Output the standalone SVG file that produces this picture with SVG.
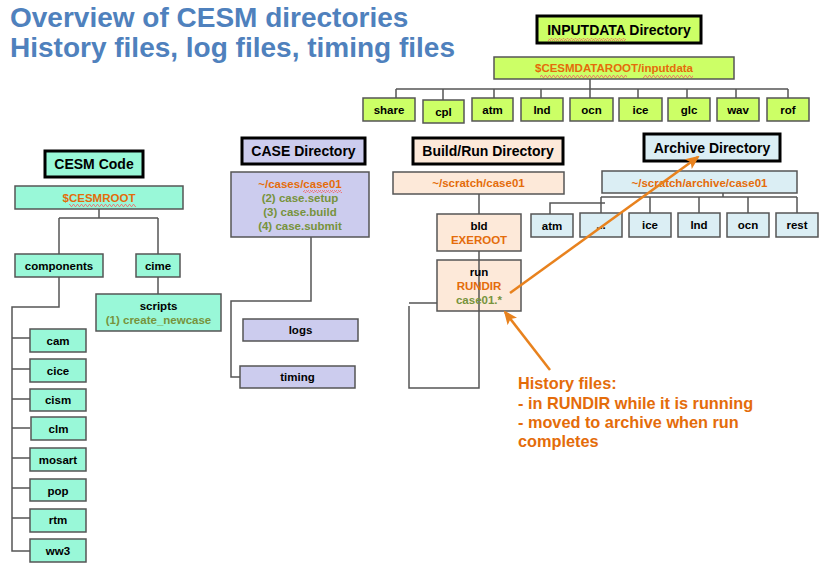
<svg xmlns="http://www.w3.org/2000/svg" width="825" height="569" viewBox="0 0 825 569">
<defs>
<style>
text{font-family:"Liberation Sans",Arial,sans-serif;font-weight:bold;}
.title{font-size:28px;fill:#4f81bd;}
.hd{font-size:14px;fill:#000;text-anchor:middle;}
.lb{font-size:11.5px;fill:#000;text-anchor:middle;}
.or{fill:#e46c0a;}
.gr{fill:#77933c;}
.hdbox{stroke:#000;stroke-width:3;}
.box{stroke:#555;stroke-width:1.5;}
.cesm{fill:#99f8d8;}
.inp{fill:#ccff66;}
.case{fill:#ccccee;}
.bld{fill:#fde9d9;}
.arc{fill:#dbeef4;}
.con{fill:none;stroke:#555;stroke-width:1.5;}
.arrow{fill:none;stroke:#e8821e;stroke-width:2.5;}
.sq{fill:url(#wave);}
.note{font-size:16.3px;fill:#e46c0a;}
</style>
<pattern id="wave" patternUnits="userSpaceOnUse" width="4" height="3">
<path d="M0,2.5 L1,0.5 L2,0.5 L3,2.5 L4,2.5" fill="none" stroke="#f06868" stroke-width="0.8"/>
</pattern>
<marker id="ah2" markerWidth="14" markerHeight="14" refX="12" refY="7" orient="auto" markerUnits="userSpaceOnUse" viewBox="0 0 14 14">
<path d="M0,1 L14,7 L0,13 L3,7 Z" fill="#e8821e"/>
</marker>
</defs>
<rect width="825" height="569" fill="#fff"/>

<g id="title">
<text class="title" x="10" y="27">Overview of CESM directories</text>
<text class="title" x="10" y="57">History files, log files, timing files</text>
</g>

<g id="connectors">
<path class="con" d="M590,79 V89 M396,89 H788 M396,89 V98 M443,89 V100 M494,89 V98 M541,89 V98 M590,89 V98 M638,89 V98 M687,89 V98 M736,89 V98 M788,89 V98"/>
<path class="con" d="M99,209 V218 M59,218 H158 M59,218 V254 M158,218 V254 M158,277 V294 M59,277 V307 H12 V551 H30 M12,338 H30 M12,369 H30 M12,399 H30 M12,428 H30 M12,458 H30 M12,488 H30 M12,518 H30"/>
<path class="con" d="M311,237 V301 H231 V377 H240"/>
<path class="con" d="M479,194 V214 M479,242 V388 H409 V306 M409,303 H442"/>
<path class="con" d="M723,193 V197 M601,197 H797 M601,197 V213 M650,197 V213 M699,197 V213 M748,197 V213 M797,197 V213 M550,214 V203 H605"/>
</g>

<g id="inputdata-title">
<rect class="hdbox inp" x="537" y="16" width="164" height="27"/>
<text class="hd" x="619" y="35">INPUTDATA Directory</text>
<rect class="sq" x="548" y="38" width="78" height="3"/>
</g>
<g id="inputdata">
<rect class="box inp" x="494" y="57" width="240" height="22"/>
<text class="lb or" x="614" y="72">$CESMDATAROOT/inputdata</text>
<rect class="sq" x="540" y="75" width="87" height="3"/>
<rect class="sq" x="643" y="75" width="50" height="3"/>
</g>
<g id="inp-share"><rect class="box inp" x="363" y="98" width="52" height="23"/><text class="lb" x="389" y="114">share</text></g>
<g id="inp-cpl"><rect class="box inp" x="423" y="100" width="41" height="23"/><text class="lb" x="443.5" y="116">cpl</text></g>
<g id="inp-atm"><rect class="box inp" x="472" y="98" width="41" height="23"/><text class="lb" x="492.5" y="114">atm</text></g>
<g id="inp-lnd"><rect class="box inp" x="521" y="98" width="42" height="23"/><text class="lb" x="542" y="114">lnd</text></g>
<g id="inp-ocn"><rect class="box inp" x="570" y="98" width="43" height="23"/><text class="lb" x="591.5" y="114">ocn</text></g>
<g id="inp-ice"><rect class="box inp" x="619" y="98" width="43" height="23"/><text class="lb" x="640.5" y="114">ice</text></g>
<g id="inp-glc"><rect class="box inp" x="668" y="98" width="42" height="23"/><text class="lb" x="689" y="114">glc</text></g>
<g id="inp-wav"><rect class="box inp" x="717" y="98" width="42" height="23"/><text class="lb" x="738" y="114">wav</text></g>
<g id="inp-rof"><rect class="box inp" x="767" y="98" width="42" height="23"/><text class="lb" x="788" y="114">rof</text></g>

<g id="cesm-title">
<rect class="hdbox cesm" x="45" y="151" width="98" height="26"/>
<text class="hd" x="94" y="169">CESM Code</text>
</g>
<g id="cesmroot">
<rect class="box cesm" x="15" y="186" width="168" height="23"/>
<text class="lb or" x="99" y="202">$CESMROOT</text>
<rect class="sq" x="69" y="204" width="67" height="3"/>
</g>
<g id="components"><rect class="box cesm" x="15" y="254" width="88" height="23"/><text class="lb" x="59" y="270">components</text></g>
<g id="cime"><rect class="box cesm" x="136" y="254" width="44" height="23"/><text class="lb" x="158" y="270">cime</text></g>
<g id="scripts">
<rect class="box cesm" x="96" y="294" width="125" height="37"/>
<text class="lb" x="158.5" y="310">scripts</text>
<text class="lb gr" x="158.5" y="324">(1) create_newcase</text>
</g>
<g id="cam"><rect class="box cesm" x="30" y="329" width="56" height="23"/><text class="lb" x="58" y="345">cam</text></g>
<g id="cice"><rect class="box cesm" x="30" y="359" width="56" height="23"/><text class="lb" x="58" y="375">cice</text></g>
<g id="cism"><rect class="box cesm" x="30" y="389" width="56" height="22"/><text class="lb" x="58" y="404">cism</text></g>
<g id="clm"><rect class="box cesm" x="31" y="417" width="55" height="23"/><text class="lb" x="58.5" y="433">clm</text></g>
<g id="mosart"><rect class="box cesm" x="30" y="448" width="56" height="23"/><text class="lb" x="58" y="464">mosart</text></g>
<g id="pop"><rect class="box cesm" x="30" y="479" width="56" height="22"/><text class="lb" x="58" y="495">pop</text></g>
<g id="rtm"><rect class="box cesm" x="30" y="509" width="56" height="23"/><text class="lb" x="58" y="524">rtm</text></g>
<g id="ww3"><rect class="box cesm" x="30" y="539" width="56" height="23"/><text class="lb" x="58" y="555">ww3</text></g>

<g id="case-title">
<rect class="hdbox case" x="242" y="138" width="123" height="26"/>
<text class="hd" x="303.5" y="156">CASE Directory</text>
</g>
<g id="case-dir">
<rect class="box case" x="231" y="172" width="138" height="65"/>
<text class="lb or" x="300" y="188">~/cases/case01</text>
<rect class="sq" x="303" y="190" width="39" height="3"/>
<text class="lb gr" x="300" y="202">(2) case.setup</text>
<text class="lb gr" x="300" y="216">(3) case.build</text>
<text class="lb gr" x="300" y="230">(4) case.submit</text>
</g>
<g id="logs"><rect class="box case" x="243" y="319" width="115" height="22"/><text class="lb" x="300.5" y="334">logs</text></g>
<g id="timing"><rect class="box case" x="240" y="366" width="115" height="22"/><text class="lb" x="297.5" y="381">timing</text></g>

<g id="build-title">
<rect class="hdbox bld" x="413" y="138" width="150" height="26"/>
<text class="hd" x="488" y="156">Build/Run Directory</text>
</g>
<g id="scratch"><rect class="box bld" x="393" y="172" width="171" height="22"/><text class="lb or" x="478.5" y="187">~/scratch/case01</text></g>
<g id="bld-node">
<rect class="box bld" x="437" y="214" width="84" height="37"/>
<text class="lb" x="479" y="230">bld</text>
<text class="lb or" x="479" y="244">EXEROOT</text>
</g>
<g id="run-node">
<rect class="box bld" x="437" y="260" width="84" height="51"/>
<path class="con" d="M479,260 V311"/>
<text class="lb" x="479" y="276">run</text>
<text class="lb or" x="479" y="290">RUNDIR</text>
<text class="lb gr" x="479" y="304">case01.*</text>
</g>

<g id="archive-title">
<rect class="hdbox arc" x="644" y="134" width="136" height="27"/>
<text class="hd" x="712" y="153">Archive Directory</text>
</g>
<g id="archive-dir"><rect class="box arc" x="602" y="171" width="195" height="22"/><text class="lb or" x="699.5" y="187">~/scratch/archive/case01</text></g>
<g id="arc-atm"><rect class="box arc" x="531" y="214" width="42" height="23"/><text class="lb" x="552" y="230">atm</text></g>
<g id="arc-dots"><rect class="box arc" x="580" y="213" width="42" height="24"/><text class="lb" x="601" y="229">...</text></g>
<g id="arc-ice"><rect class="box arc" x="629" y="213" width="42" height="24"/><text class="lb" x="650" y="229">ice</text></g>
<g id="arc-lnd"><rect class="box arc" x="678" y="213" width="42" height="24"/><text class="lb" x="699" y="229">lnd</text></g>
<g id="arc-ocn"><rect class="box arc" x="727" y="213" width="42" height="24"/><text class="lb" x="748" y="229">ocn</text></g>
<g id="arc-rest"><rect class="box arc" x="776" y="213" width="42" height="24"/><text class="lb" x="797" y="229">rest</text></g>

<g id="callout">
<text class="note" x="518" y="389">History files:</text>
<text class="note" x="518" y="409">- in RUNDIR while it is running</text>
<text class="note" x="518" y="428">- moved to archive when run</text>
<text class="note" x="518" y="447">completes</text>
</g>

<g id="arrows">
<path class="arrow" d="M510,293 L698,157" marker-end="url(#ah2)"/>
<path class="arrow" d="M550,370 L505,312" marker-end="url(#ah2)"/>
</g>
</svg>
